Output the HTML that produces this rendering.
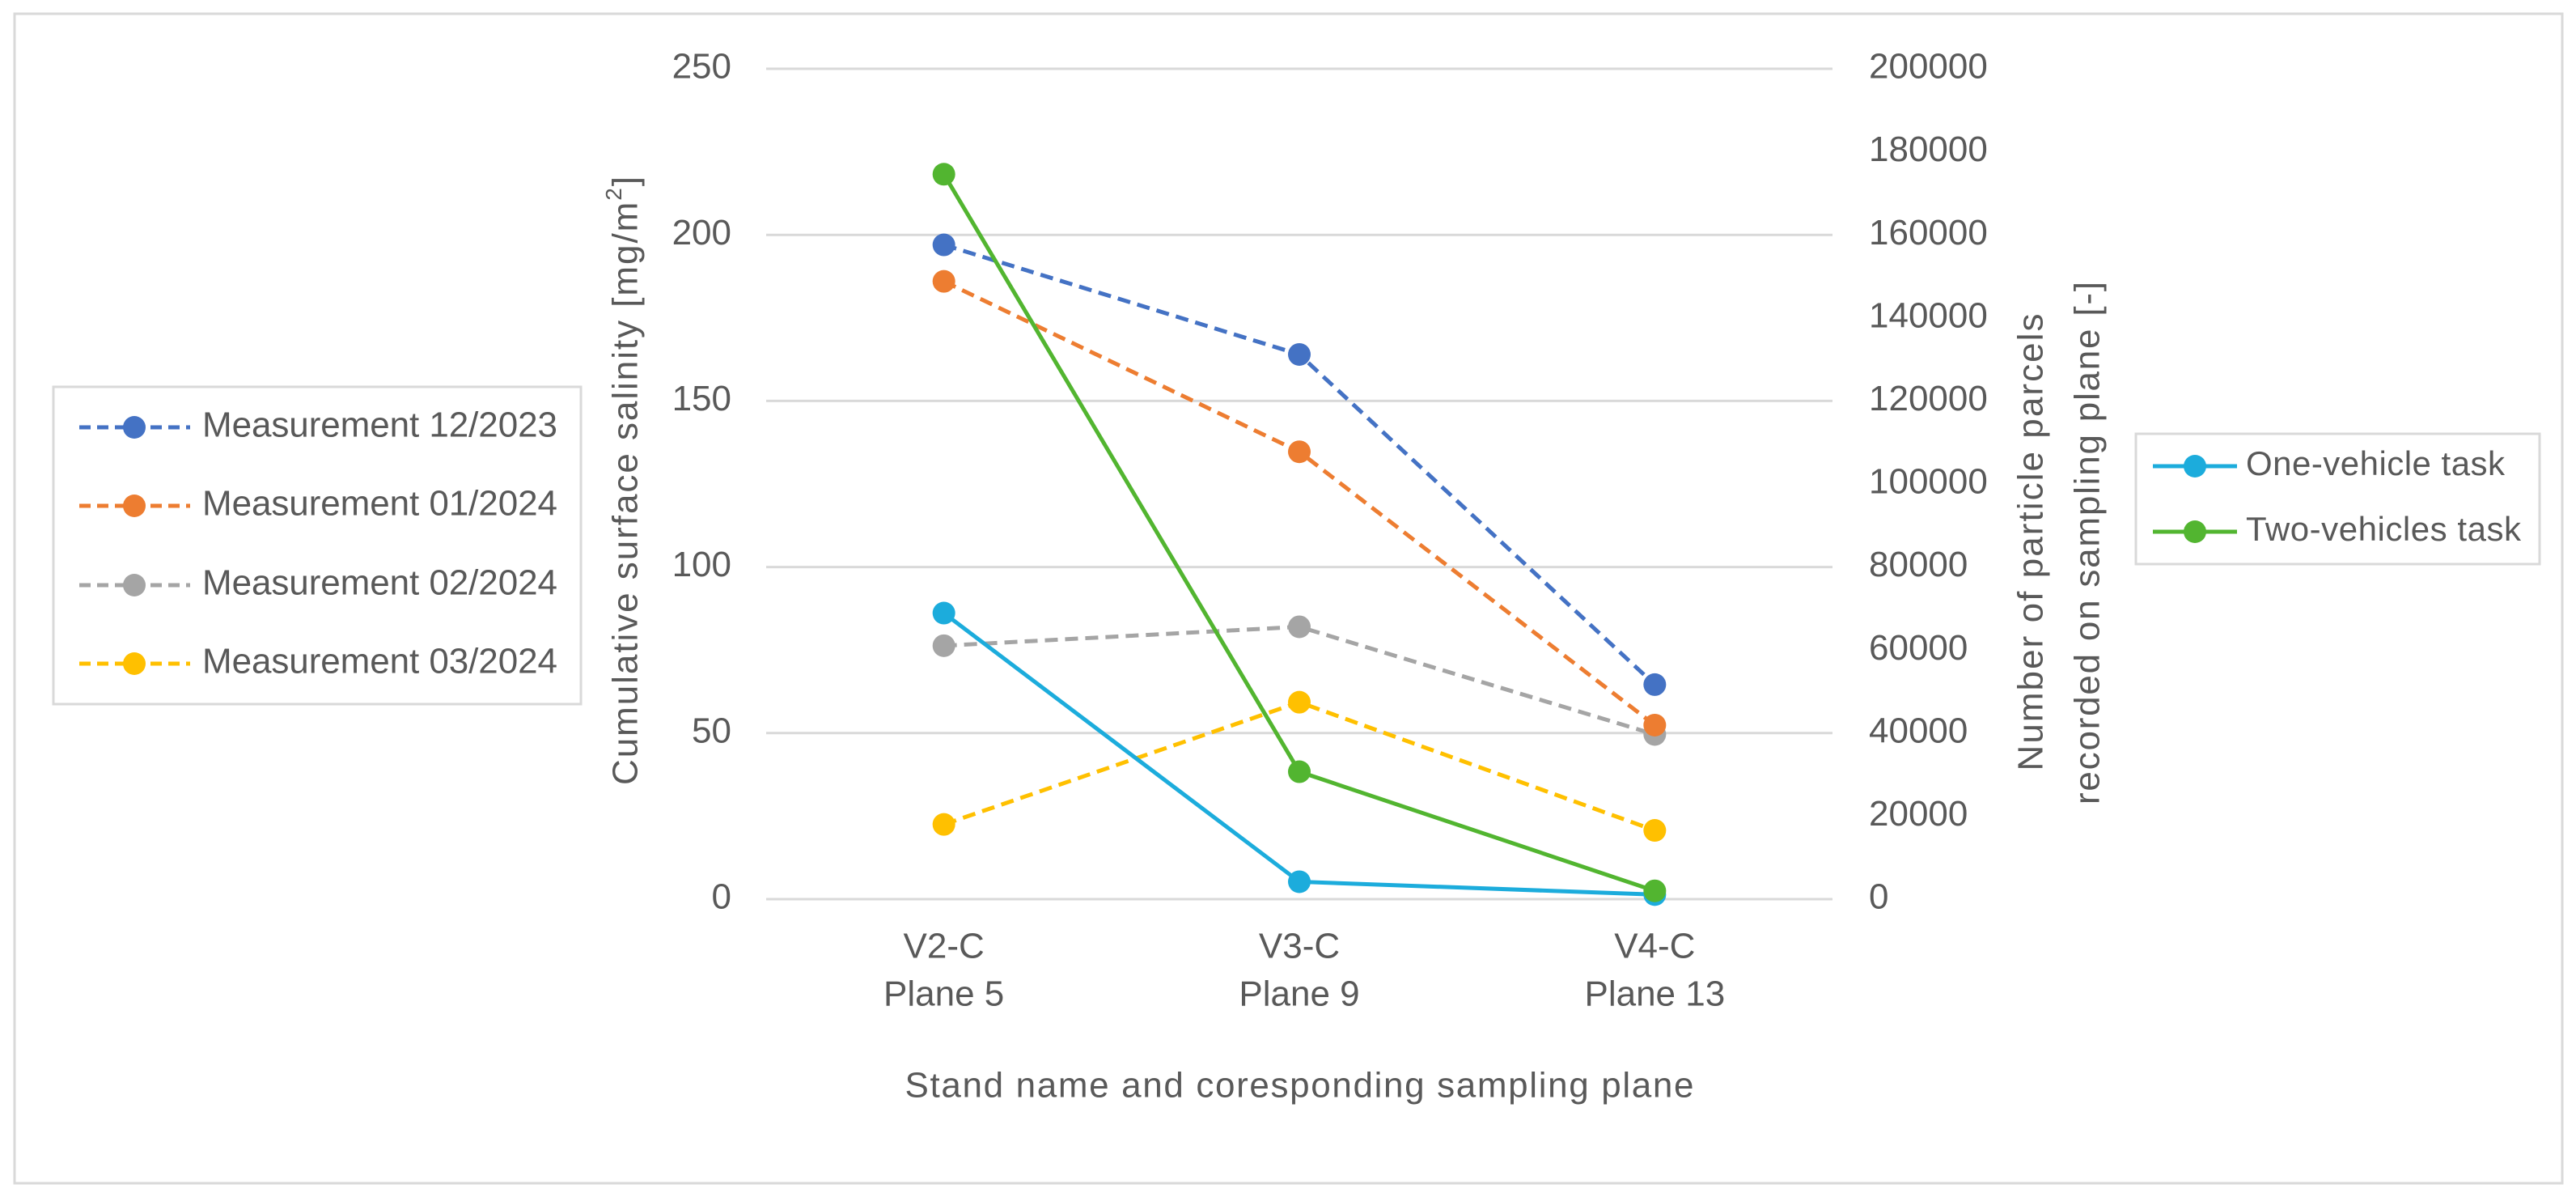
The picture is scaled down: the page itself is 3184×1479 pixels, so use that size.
<!DOCTYPE html>
<html><head><meta charset="utf-8"><style>
html,body{margin:0;padding:0;background:#fff;}
svg{display:block;font-family:"Liberation Sans",sans-serif;}
</style></head><body>
<svg id="chart" width="3184" height="1479" viewBox="0 0 3184 1479">
<rect x="18" y="17" width="3149" height="1445" fill="#fff" stroke="#d9d9d9" stroke-width="3"/>
<g id="grid"></g>
<g id="series"></g>
<g id="ticks" fill="#595959" font-size="44"></g>
<text x="776" y="594" transform="rotate(-90 776 594)" text-anchor="middle" dominant-baseline="middle" fill="#595959" font-size="44" textLength="752">Cumulative surface salinity [mg/m<tspan baseline-shift="super" font-size="28">2</tspan>]</text>
<text x="2513" y="670" transform="rotate(-90 2513 670)" text-anchor="middle" dominant-baseline="middle" fill="#595959" font-size="44" textLength="565">Number of particle parcels</text>
<text x="2583" y="671" transform="rotate(-90 2583 671)" text-anchor="middle" dominant-baseline="middle" fill="#595959" font-size="44" textLength="646">recorded on sampling plane [-]</text>
<text x="1606" y="1344" text-anchor="middle" dominant-baseline="middle" fill="#595959" font-size="44" textLength="975">Stand name and coresponding sampling plane</text>
<rect x="66" y="478" width="652" height="392" fill="#fff" stroke="#d9d9d9" stroke-width="3"/>
<rect x="2640" y="536" width="499" height="161" fill="#fff" stroke="#d9d9d9" stroke-width="3"/>
<g id="legend"></g>
</svg>
<script>
const categories = ["V2-C|Plane 5", "V3-C|Plane 9", "V4-C|Plane 13"];
const leftTicks = [0, 50, 100, 150, 200, 250];
const rightTicks = [0, 20000, 40000, 60000, 80000, 100000, 120000, 140000, 160000, 180000, 200000];
const m122023 = [197, 164, 64.6];
const m012024 = [186, 134.7, 52.4];
const m022024 = [76.3, 82, 49.6];
const m032024 = [22.5, 59.3, 20.7];
const oneVehicle = [68900, 4200, 1100];
const twoVehicles = [174600, 30700, 2000];

const NS = "http://www.w3.org/2000/svg";
const X0 = 947, X1 = 2265, Y0 = 1111, Y1 = 85;
const LMAX = 250, RMAX = 200000;
const xPos = i => X0 + (X1 - X0) * (i + 0.5) / categories.length;
const yL = v => Y0 - (Y0 - Y1) * v / LMAX;
const yR = v => Y0 - (Y0 - Y1) * v / RMAX;
function mk(tag, attrs, parent) {
  const e = document.createElementNS(NS, tag);
  for (const k in attrs) e.setAttribute(k, attrs[k]);
  parent.appendChild(e);
  return e;
}
const grid = document.getElementById('grid');
const ticks = document.getElementById('ticks');
leftTicks.forEach(v => {
  const l = mk('line', {x1: X0, x2: X1, y1: yL(v), y2: yL(v), stroke: '#d9d9d9', 'stroke-width': 3}, grid);
  
  
  const t = mk('text', {x: 904, y: yL(v), 'text-anchor': 'end', 'dominant-baseline': 'middle'}, ticks);
  t.textContent = v;
  
  
});
rightTicks.forEach(v => {
  const t = mk('text', {x: 2310, y: yR(v), 'text-anchor': 'start', 'dominant-baseline': 'middle'}, ticks);
  t.textContent = v;
  
  
});
categories.forEach((c, i) => {
  const parts = c.split('|');
  const t1 = mk('text', {x: xPos(i), y: 1172, 'text-anchor': 'middle', 'dominant-baseline': 'middle'}, ticks);
  t1.textContent = parts[0];
  
  
  const t2 = mk('text', {x: xPos(i), y: 1231, 'text-anchor': 'middle', 'dominant-baseline': 'middle'}, ticks);
  t2.textContent = parts[1];
  
  
});
const series = document.getElementById('series');
const defs = [
  {d: m022024, c: '#a5a5a5', dash: true, y: yL, n: 'measurement-02-2024'},
  {d: m032024, c: '#ffc000', dash: true, y: yL, n: 'measurement-03-2024'},
  {d: m012024, c: '#ed7d31', dash: true, y: yL, n: 'measurement-01-2024'},
  {d: m122023, c: '#4472c4', dash: true, y: yL, n: 'measurement-12-2023'},
  {d: oneVehicle, c: '#1cacdc', dash: false, y: yR, n: 'one-vehicle-task'},
  {d: twoVehicles, c: '#52b530', dash: false, y: yR, n: 'two-vehicles-task'}
];
defs.forEach(s => {
  const g = mk('g', {}, series);
  
  
  const pts = s.d.map((v, i) => xPos(i) + ',' + s.y(v)).join(' ');
  const pl = mk('polyline', {points: pts, fill: 'none', stroke: s.c, 'stroke-width': 5, 'stroke-dasharray': s.dash ? '16 9' : 'none'}, g);
  
  
  s.d.forEach((v, i) => {
    const c = mk('circle', {cx: xPos(i), cy: s.y(v), r: 14, fill: s.c}, g);
    
    
  });
});
const leg = document.getElementById('legend');
const leftLeg = [
  {c: '#4472c4', t: 'Measurement 12/2023', y: 528},
  {c: '#ed7d31', t: 'Measurement 01/2024', y: 625},
  {c: '#a5a5a5', t: 'Measurement 02/2024', y: 723},
  {c: '#ffc000', t: 'Measurement 03/2024', y: 820}
];
leftLeg.forEach(e => {
  const l = mk('line', {x1: 98, x2: 235, y1: e.y, y2: e.y, stroke: e.c, 'stroke-width': 5, 'stroke-dasharray': '14 8'}, leg);
  
  
  const c = mk('circle', {cx: 166, cy: e.y, r: 14, fill: e.c}, leg);
  
  
  const t = mk('text', {x: 250, y: e.y, 'dominant-baseline': 'middle', 'font-size': 44, fill: '#595959', textLength: 439}, leg);
  t.textContent = e.t;
  
  
});
const rightLeg = [
  {c: '#1cacdc', t: 'One-vehicle task', y: 576, w: 320},
  {c: '#52b530', t: 'Two-vehicles task', y: 657, w: 340}
];
rightLeg.forEach(e => {
  const l = mk('line', {x1: 2661, x2: 2765, y1: e.y, y2: e.y, stroke: e.c, 'stroke-width': 5}, leg);
  
  
  const c = mk('circle', {cx: 2713, cy: e.y, r: 14, fill: e.c}, leg);
  
  
  const t = mk('text', {x: 2776, y: e.y, 'dominant-baseline': 'middle', 'font-size': 42, fill: '#595959', textLength: e.w}, leg);
  t.textContent = e.t;
  
  
});
</script>
</body></html>
